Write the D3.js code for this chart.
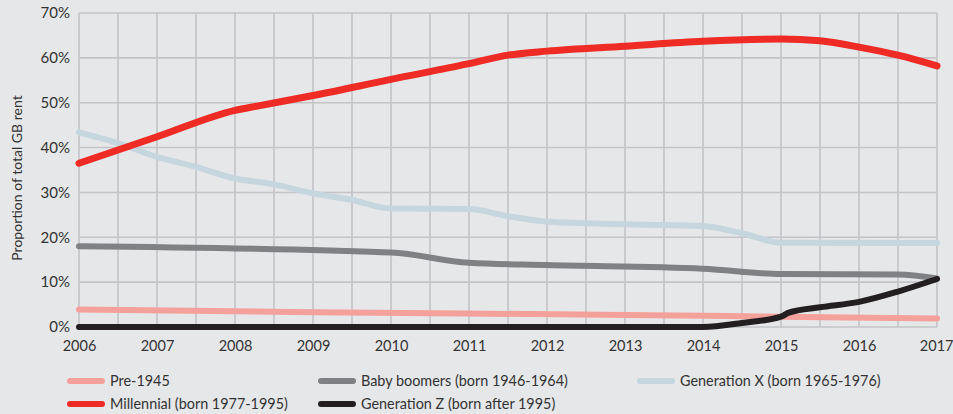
<!DOCTYPE html>
<html><head><meta charset="utf-8">
<script src="https://cdn.jsdelivr.net/npm/d3@7"></script>
<style>
html,body{margin:0;padding:0;background:#e6e7e9;}
svg{display:block;font-family:Lato,"Open Sans",sans-serif;}
</style></head>
<body><svg id="c" width="953" height="414"></svg>
<script>
const yearTicks = [2006,2007,2008,2009,2010,2011,2012,2013,2014,2015,2016,2017];
const yTicks = [0,10,20,30,40,50,60,70];
const seriesNames = ["Pre-1945","Baby boomers (born 1946-1964)","Generation X (born 1965-1976)","Millennial (born 1977-1995)","Generation Z (born after 1995)"];
const pre1945 = [[2006,3.9],[2009,3.3],[2013,2.7],[2015,2.3],[2017,1.9]];
const babyBoomers = [[2006,18.0],[2010,16.6],[2011,14.3],[2012,13.8],[2014,13.0],[2015,11.8],[2016.5,11.7],[2017,10.8]];
const genX = [[2006,43.4],[2006.5,41.0],[2007,37.9],[2007.5,35.7],[2008,33.1],[2008.5,31.8],[2009,29.8],[2009.5,28.3],[2010,26.4],[2011,26.3],[2011.5,24.7],[2012,23.5],[2013,22.9],[2014,22.5],[2014.5,20.9],[2015,18.8],[2017,18.7]];
const millennial = [[2006,36.5],[2007,42.4],[2008,48.3],[2008.3,49.3],[2009,51.6],[2010,55.2],[2011,58.7],[2011.5,60.6],[2012,61.5],[2013,62.6],[2014,63.7],[2015,64.2],[2015.5,63.8],[2016,62.4],[2016.5,60.6],[2017,58.2]];
const genZ = [[2006,0],[2014,0],[2014.5,0.9],[2015,2.3],[2015.1,3.2],[2015.5,4.4],[2016,5.6],[2016.5,7.9],[2017,10.7]];
const colors = ["#f5a19b","#808184","#c6d6df","#ee2b25","#231f20"];

const svg = d3.select("#c");
const x = d3.scaleLinear().domain([2006,2017]).range([79,937]);
const y = d3.scaleLinear().domain([0,70]).range([327,13]);
const grid = "#c3c4c7";
const font = "Lato,'Open Sans',sans-serif";

const halfYears = d3.range(2006,2017.01,0.5);
svg.append("g").selectAll("line").data(halfYears).join("line")
  .attr("x1",d=>x(d)).attr("x2",d=>x(d)).attr("y1",y(70)).attr("y2",y(0))
  .attr("stroke",grid).attr("stroke-width",1.6);
svg.append("g").selectAll("line").data(yTicks).join("line")
  .attr("x1",x(2006)).attr("x2",x(2017)).attr("y1",d=>y(d)).attr("y2",d=>y(d))
  .attr("stroke",grid).attr("stroke-width",1.6);

const yAxis = d3.axisLeft(y).tickValues(yTicks).tickFormat(d=>d+"%").tickSize(0).tickPadding(9);
const gy = svg.append("g").attr("transform",`translate(${x(2006)},0)`).call(yAxis);
gy.select(".domain").remove();
gy.selectAll("text").attr("font-size",15).attr("fill","#333").attr("font-family",font);
const xAxis = d3.axisBottom(x).tickValues(yearTicks).tickFormat(d3.format("d")).tickSize(0).tickPadding(14);
const gx = svg.append("g").attr("transform",`translate(0,${y(0)})`).call(xAxis);
gx.select(".domain").remove();
gx.selectAll("text").attr("font-size",14.5).attr("fill","#333").attr("font-family",font);
gx.selectAll("text").filter(d=>d===2017).attr("text-anchor","end").attr("dx",16);

svg.append("text").attr("transform","translate(22,178) rotate(-90)")
  .attr("text-anchor","middle").attr("font-size",14).attr("fill","#333")
  .text("Proportion of total GB rent");

const line = d3.line().x(d=>x(d[0])).y(d=>y(d[1])).curve(d3.curveMonotoneX);
const data = [pre1945,babyBoomers,genX,millennial,genZ];
const widths = [6,6,6,7,6];
svg.append("g").selectAll("path").data(data).join("path")
  .attr("d",line).attr("fill","none")
  .attr("stroke",(d,i)=>colors[i]).attr("stroke-width",(d,i)=>widths[i])
  .attr("stroke-linecap","round").attr("stroke-linejoin","round");

const legendPos = [[67,381],[318,381],[637,381],[67,404],[318,404]];
const lg = svg.append("g").selectAll("g").data(seriesNames).join("g")
  .attr("transform",(d,i)=>`translate(${legendPos[i][0]},${legendPos[i][1]})`);
lg.append("line").attr("x1",3).attr("x2",35).attr("y1",0).attr("y2",0)
  .attr("stroke",(d,i)=>colors[i]).attr("stroke-width",6).attr("stroke-linecap","round");
lg.append("text").attr("x",43).attr("y",0).attr("dy","0.35em")
  .attr("font-size",14.4).attr("fill","#333").text(d=>d);
</script></body></html>
